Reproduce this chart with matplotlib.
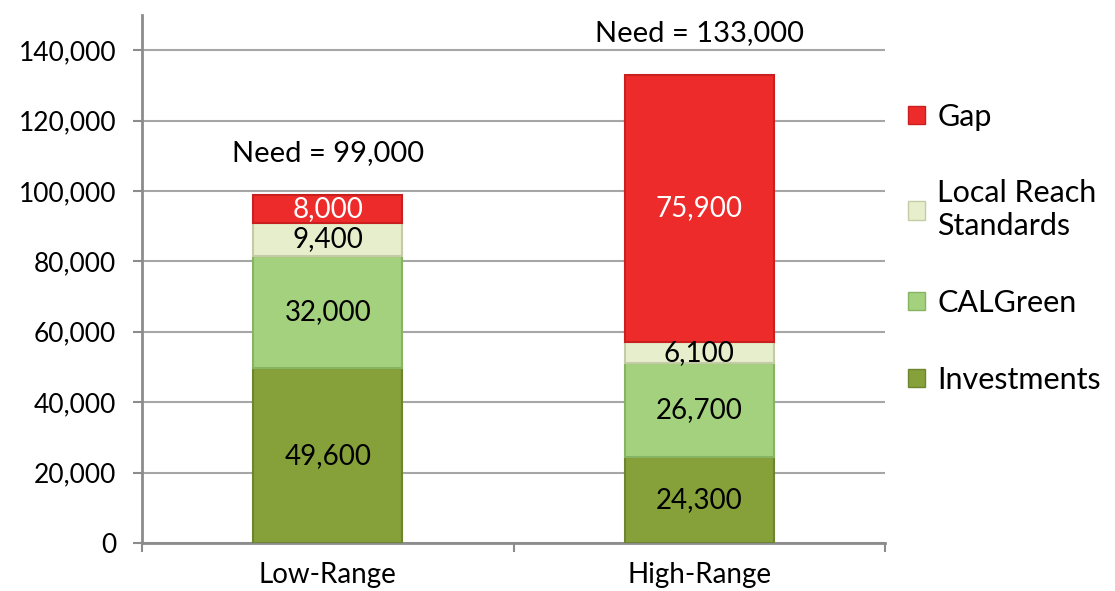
import matplotlib.pyplot as plt
from matplotlib.patches import Patch
from matplotlib.ticker import FuncFormatter

categories = ['Low-Range', 'High-Range']
investments = [49600, 24300]
calgreen = [32000, 26700]
local_reach = [9400, 6100]
gap = [8000, 75900]
need = [99000, 133000]

series = [
    ('Investments', investments, '#86a03a', '#6d8530', 'black'),
    ('CALGreen', calgreen, '#a3d17e', '#86b463', 'black'),
    ('Local Reach\nStandards', local_reach, '#e6eecb', '#c3cca6', 'black'),
    ('Gap', gap, '#ee2b2b', '#c91f1f', 'white'),
]

plt.rcParams['font.family'] = ['Lato', 'DejaVu Sans']

fig = plt.figure(figsize=(11.15, 5.91), dpi=100)
ax = fig.add_axes([0.1274, 0.0812, 0.6663, 0.8934])

x = range(len(categories))
bottom = [0, 0]
handles = []
for name, vals, col, edge, tcol in series:
    bars = ax.bar(x, vals, width=0.4, bottom=bottom, color=col,
                  edgecolor=edge, linewidth=1.5, zorder=3)
    labels = [f'{v:,}' for v in vals]
    ax.bar_label(bars, labels=labels, label_type='center', color=tcol,
                 fontsize=20, zorder=4)
    bottom = [b + v for b, v in zip(bottom, vals)]
    handles.append(Patch(facecolor=col, edgecolor=edge, label=name))

for i, n in enumerate(need):
    ax.annotate(f'Need = {n:,}', (i, n), xytext=(0, 30),
                textcoords='offset points', ha='center', va='center',
                fontsize=21)

ax.set_xlim(-0.5, 1.5)
ax.set_ylim(0, 150000)
ax.set_yticks(range(0, 140001, 20000))
ax.yaxis.set_major_formatter(FuncFormatter(lambda v, p: f'{int(v):,}'))
ax.grid(axis='y', color='#a6a6a6', linewidth=1.5, zorder=0)

ax.set_xticks([-0.5, 0.5, 1.5])
ax.set_xticklabels([])
ax.set_xticks(list(x), minor=True)
ax.set_xticklabels(categories, minor=True, fontsize=20)
ax.tick_params(axis='x', which='minor', length=0, pad=14)
ax.tick_params(axis='x', which='major', length=6.5, width=1.5, color='#8c8c8c')
ax.tick_params(axis='y', length=6.5, width=1.5, color='#8c8c8c', labelsize=19, pad=12)

for s in ['top', 'right']:
    ax.spines[s].set_visible(False)
for s in ['left', 'bottom']:
    ax.spines[s].set_color('#8c8c8c')
    ax.spines[s].set_linewidth(2)

leg = fig.legend(handles=handles[::-1], loc='center left',
                 bbox_to_anchor=(0.79, 0.58), frameon=False, fontsize=22,
                 handlelength=0.55, handleheight=0.55, handletextpad=0.4,
                 labelspacing=1.6)

fig.savefig('out.png', dpi=100)
